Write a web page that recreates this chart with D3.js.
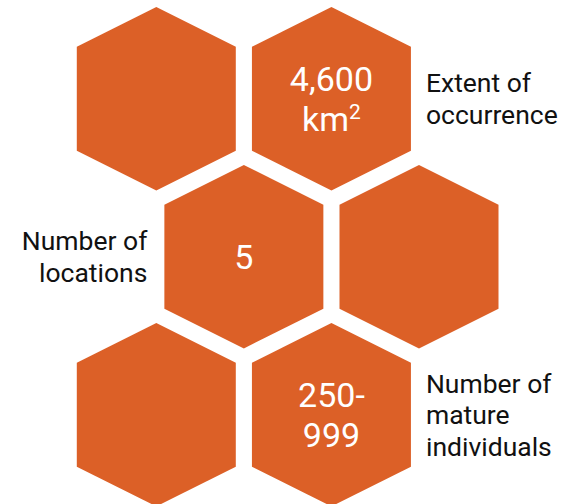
<!DOCTYPE html>
<html>
<head>
<meta charset="utf-8">
<script src="https://cdn.jsdelivr.net/npm/d3@7"></script>
<style>
  html, body { margin: 0; padding: 0; background: #fff; }
  svg { display: block; }
</style>
</head>
<body>
<svg id="chart" width="570" height="504"></svg>
<script>
// ---- data ----
const hexRows = [0, 0, 1, 1, 2, 2];
const hexCols = [0, 2, 1, 3, 0, 2];
// value lines; a line given as [base, superscript] draws a superscript
const hexValues = [[], ["4,600", ["km", "2"]], ["5"], [], [], ["250-", "999"]];
const metricLabels = [[], ["Extent of", "occurrence"], ["Number of", "locations"], [], [], ["Number of", "mature", "individuals"]];
const labelSides = ["", "right", "left", "", "", "right"];

// ---- drawing ----
const svg = d3.select("#chart");
const fill = "#dc6027";
const x = d3.scaleLinear().domain([0, 3]).range([156.3, 419]);
const y = d3.scaleLinear().domain([0, 2]).range([98.7, 414.7]);
const hw = 79.5, tipH = 91.7, sideH = 52;
const hexPts = [[0, -tipH], [hw, -sideH], [hw, sideH], [0, tipH], [-hw, sideH], [-hw, -sideH]];
const line = d3.line().curve(d3.curveLinearClosed);

const cells = hexRows.map((r, i) => ({
  r, c: hexCols[i],
  value: hexValues[i],
  label: metricLabels[i], side: labelSides[i]
}));

const g = svg.selectAll("g.hex").data(cells).join("g")
  .attr("class", "hex")
  .attr("transform", d => `translate(${x(d.c)},${y(d.r)})`);

g.append("path").attr("d", line(hexPts)).attr("fill", fill);

const valLH = 40, valCap = 12;
g.each(function(d) {
  const n = d.value.length;
  d3.select(this).selectAll("text.val").data(d.value).join("text")
    .attr("class", "val")
    .attr("x", 0)
    .attr("y", (t, i) => (i - (n - 1) / 2) * valLH + valCap)
    .attr("text-anchor", "middle")
    .attr("fill", "#fff")
    .attr("font-family", "Roboto, sans-serif")
    .attr("font-size", 34)
    .each(function(t) {
      const el = d3.select(this);
      if (Array.isArray(t)) {
        el.append("tspan").text(t[0]);
        el.append("tspan").attr("font-size", 21).attr("dy", -12).text(t[1]);
      } else {
        el.text(t);
      }
    });

  const m = d.label.length;
  const lx = d.side === "right" ? hw + 15 : -hw - 17;
  d3.select(this).selectAll("text.lab").data(d.label).join("text")
    .attr("class", "lab")
    .attr("x", lx)
    .attr("y", (t, i) => (i - (m - 1) / 2) * 31.7 + 9.5)
    .attr("text-anchor", d.side === "right" ? "start" : "end")
    .attr("fill", "#111")
    .attr("font-family", "Roboto, sans-serif")
    .attr("font-size", 26.5)
    .text(t => t);
});
</script>
</body>
</html>
